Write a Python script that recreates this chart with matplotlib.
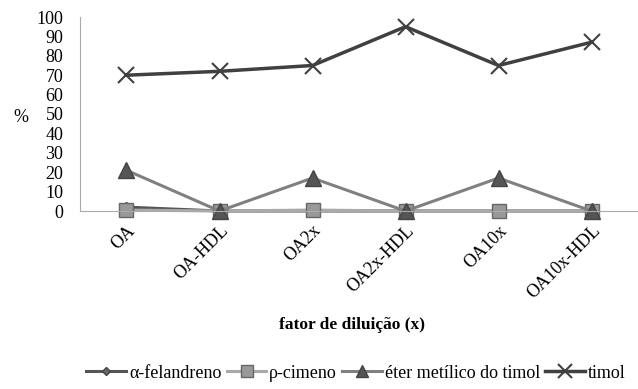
import numpy as np
import matplotlib.pyplot as plt

plt.rcParams['font.family'] = ['Liberation Serif', 'DejaVu Serif']

categorias = ["OA", "OA-HDL", "OA2x", "OA2x-HDL", "OA10x", "OA10x-HDL"]
felandreno = [2, 0, 0, 0, 0, 0]
cimeno = [0.5, 0, 0.5, 0, 0, 0]
eter = [21, 0, 17, 0, 17, 0]
timol = [70, 72, 75, 95, 75, 87]

fig = plt.figure(figsize=(6.38, 3.89), dpi=100)
ax = fig.add_axes([80/638, (389-211)/389, 558/638, 194/389])

x = np.arange(len(categorias))
ax.plot(x, felandreno, color="#555555", lw=2.2, marker="D", ms=5,
        mfc="#666666", mec="#444444", label="α-felandreno", clip_on=False)
ax.plot(x, cimeno, color="#aaaaaa", lw=2.2, marker="s", ms=10,
        mfc="#999999", mec="#666666", label="ρ-cimeno", clip_on=False)
ax.plot(x, eter, color="#808080", lw=2.2, marker="^", ms=11,
        mfc="#555555", mec="#444444", label="éter metílico do timol", clip_on=False)
ax.plot(x, timol, color="#404040", lw=2.5, marker="x", ms=12, mew=1.5,
        mec="#404040", label="timol", clip_on=False)

ax.set_xlim(-0.5, len(categorias) - 0.5)
ax.set_ylim(0, 100)
ax.set_yticks(range(0, 101, 10))
ax.tick_params(axis="y", length=0, pad=12, labelsize=13)
ax.tick_params(axis="x", length=0, pad=8, labelsize=13)
ax.set_xticks(x)
ax.set_xticklabels(categorias, rotation=45, ha="right", va="top",
                   rotation_mode="anchor")
for s in ["top", "right"]:
    ax.spines[s].set_visible(False)
for s in ["left", "bottom"]:
    ax.spines[s].set_color("#aaaaaa")
    ax.spines[s].set_linewidth(0.8)

fig.text(21/638, 1 - 117/389, "%", ha="center", va="center", fontsize=13)
fig.text(352/638, 1 - 325/389, "fator de diluição (x)", ha="center",
         va="center", fontsize=12.5, fontweight="bold")

fig.legend(loc="center", bbox_to_anchor=(356/638, 1 - 373/389), ncol=4,
           frameon=False, fontsize=13, handlelength=2.2, handletextpad=0.15,
           columnspacing=0.3, markerscale=0.8)

fig.savefig("out.png", dpi=100)
